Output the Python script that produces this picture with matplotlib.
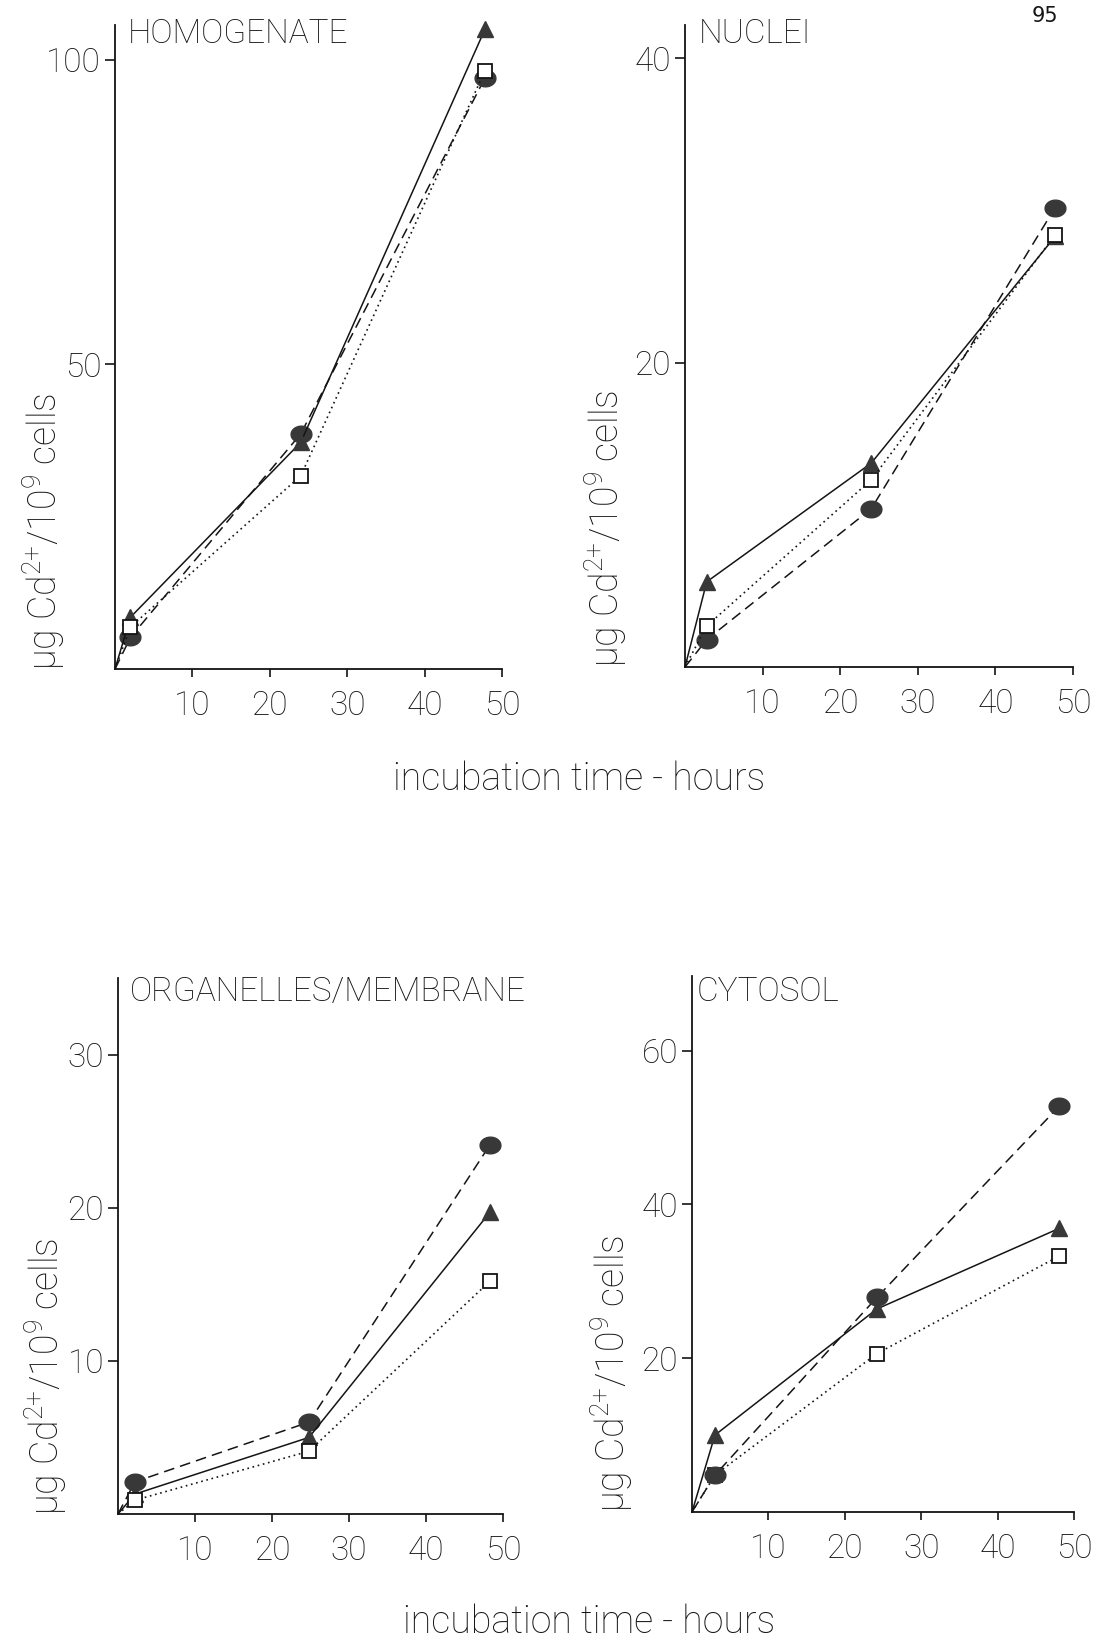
import numpy as np
import matplotlib
matplotlib.use("Agg")
import matplotlib.pyplot as plt

# ---------------- data ----------------
titles = ["HOMOGENATE", "NUCLEI", "ORGANELLES/MEMBRANE", "CYTOSOL"]

hours_homog = [0, 2.0, 24.0, 47.8]
homog_triangle = [0, 8.5, 37.2, 105.0]
homog_circle = [0, 5.2, 38.6, 97.0]
homog_square = [0, 6.9, 31.7, 98.2]

hours_nuclei = [0, 2.8, 24.0, 47.7]
nuclei_triangle = [0, 5.6, 13.4, 28.3]
nuclei_circle = [0, 1.8, 10.4, 30.2]
nuclei_square = [0, 2.7, 12.3, 28.4]

hours_organ = [0, 2.2, 24.8, 48.3]
organ_triangle = [0, 1.3, 5.0, 19.7]
organ_circle = [0, 2.1, 6.0, 24.1]
organ_square = [0, 0.9, 4.1, 15.2]

hours_cyto = [0, 3.0, 24.2, 48.1]
cyto_triangle = [0, 10.0, 26.4, 36.9]
cyto_circle = [0, 4.8, 27.9, 52.8]
cyto_square = [0, 4.8, 20.6, 33.3]

x_ticks = [10, 20, 30, 40, 50]
y_ticks_list = [[50, 100], [20, 40], [10, 20, 30], [20, 40, 60]]
y_tops = [105.7, 42.2, 35.0, 69.7]

ylabel = r"μg Cd$^{2{+}}$/10$^{9}$ cells"
xlabel = "incubation time - hours"

# ---------------- figure ----------------
W, H = 1099, 1643
FONT = ["Roboto", "DejaVu Sans"]
plt.rcParams["font.family"] = FONT
plt.rcParams["font.weight"] = "light"
plt.rcParams["mathtext.fontset"] = "custom"
plt.rcParams["mathtext.rm"] = "Roboto:light"
plt.rcParams["mathtext.it"] = "Roboto:light"
plt.rcParams["mathtext.default"] = "regular"

fig = plt.figure(figsize=(W / 100, H / 100), dpi=100)
fig.patch.set_facecolor("white")

def fx(px):
    return px / W

def fy(py):
    return 1 - py / H

# axes rectangles in pixels: left, top, right, bottom
rects = [(115, 25, 502, 669), (685, 25, 1073, 667),
         (118, 978, 503, 1514), (692, 976, 1074, 1512)]

series = [
    (hours_homog, homog_triangle, homog_circle, homog_square),
    (hours_nuclei, nuclei_triangle, nuclei_circle, nuclei_square),
    (hours_organ, organ_triangle, organ_circle, organ_square),
    (hours_cyto, cyto_triangle, cyto_circle, cyto_square),
]
circle_on_top = [False, False, False, True]

t = np.linspace(0, 2 * np.pi, 40)
ellipse = np.column_stack([1.25 * np.cos(t), np.sin(t)])

INK = "#141414"
FILL = "#383838"

title_pos = [(128, 34), (699, 34), (130, 992), (697, 992)]
ylabel_pos = [(44, 670), (606, 667), (46, 1515), (612, 1512)]

for i, (l, tp, r, b) in enumerate(rects):
    ax = fig.add_axes([fx(l), fy(b), (r - l) / W, (b - tp) / H])
    ax.set_facecolor("none")
    for s in ("top", "right"):
        ax.spines[s].set_visible(False)
    for s in ("left", "bottom"):
        ax.spines[s].set_linewidth(1.3)
        ax.spines[s].set_color(INK)
    ax.set_xlim(0, 50)
    ax.set_ylim(0, y_tops[i])
    ax.set_xticks(x_ticks)
    ax.set_yticks(y_ticks_list[i])
    ax.tick_params(axis="x", direction="out", length=6, width=1.2, pad=9,
                   labelsize=24, colors=INK)
    ax.tick_params(axis="y", direction="out", length=7, width=1.2, pad=3,
                   labelsize=24, colors=INK)

    hrs, tri, cir, sq = series[i]
    ax.plot(hrs, cir, ls=(0, (7, 4)), lw=1.1, color=INK, marker=ellipse,
            ms=15, mfc=FILL, mec=FILL, markevery=[1, 2, 3], clip_on=False,
            zorder=6 if circle_on_top[i] else 3)
    ax.plot(hrs, tri, ls="-", lw=1.1, color=INK, marker="^",
            ms=11.5, mfc=FILL, mec=FILL, markevery=[1, 2, 3], clip_on=False, zorder=4)
    ax.plot(hrs, sq, ls=(0, (1, 2.2)), lw=1.2, color=INK, marker="s",
            ms=9.5, mfc="white", mec=INK, mew=1.3, markevery=[1, 2, 3],
            clip_on=False, zorder=5)

    tx, ty = title_pos[i]
    fig.text(fx(tx), fy(ty), titles[i], ha="left", va="center",
             fontsize=24, color=INK)
    lx, ly = ylabel_pos[i]
    fig.text(fx(lx), fy(ly), ylabel, rotation=90, ha="center", va="bottom",
             fontsize=27, color=INK)

fig.text(fx(579), fy(779), xlabel, ha="center", va="center", fontsize=27, color=INK)
fig.text(fx(589), fy(1641), xlabel, ha="center", va="bottom", fontsize=27, color=INK)
fig.text(fx(1045), fy(16), "95", ha="center", va="center", fontsize=15,
         color=INK, family="DejaVu Sans", weight="normal")

fig.savefig("out.png", dpi=100, facecolor="white")
